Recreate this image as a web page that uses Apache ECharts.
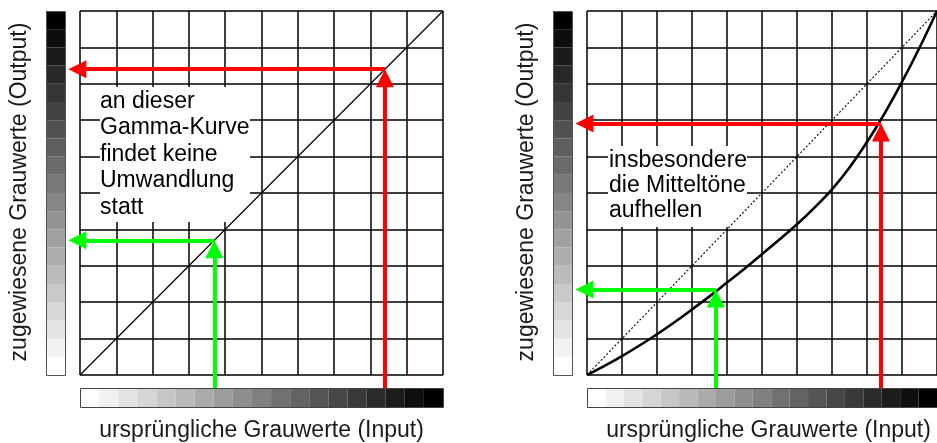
<!DOCTYPE html>
<html><head><meta charset="utf-8">
<script src="https://cdn.jsdelivr.net/npm/echarts@6/dist/echarts.min.js"></script>
<style>html,body{margin:0;padding:0;background:#fff}#c{width:937px;height:443px}</style>
</head><body><div id="c"></div>
<script>
// ---- data ----
const inputGrays = [255, 241, 227, 213, 198, 184, 170, 156, 142, 128, 113, 99, 85, 71, 57, 43, 28, 14, 0]; // bottom bar, left→right
const outputGrays = [255, 242, 228, 215, 201, 188, 174, 161, 148, 134, 121, 107, 94, 81, 67, 54, 40, 27, 13, 0]; // side bar, bottom→top
const identityIn = [0, 100];
const identityOut = [0, 100];
const gammaIn  = [0, 5, 10, 15, 20, 25, 30, 35, 40, 45, 50, 55, 60, 65, 70, 75, 80, 85, 90, 95, 100];
const gammaOut = [0, 2.5, 5.2, 8.1, 11.2, 14.5, 18, 21.6, 25.4, 29.2, 33.2, 37.2, 41.4, 46.0, 51.0, 57.0, 64.0, 71.8, 80.5, 89.9, 100];
// example lookups: [input, output]
const leftGreen = [37, 37];
const leftRed = [84, 84];
const rightGreen = [36.8, 23.5];
const rightRed = [84, 69.1];
const leftNote = 'an dieser\nGamma-Kurve\nfindet keine\nUmwandlung\nstatt';
const rightNote = 'insbesondere\ndie Mitteltöne\naufhellen';
const xTitle = 'ursprüngliche Grauwerte (Input)';
const yTitle = 'zugewiesene Grauwerte (Output)';

// ---- layout ----
const FONT = '"Liberation Sans", Arial, sans-serif';
const PW = 363, PH = 364, TOP = 11;
const panels = [{left: 80, side: 46}, {left: 587, side: 553}];
const PXU = 100 / PW;          // data units per pixel
const BAR_TOP = 388, BAR_H = 19;
const START_Y = -(BAR_TOP - (TOP + PH)) * PXU;  // bottom bar top edge in data units
const TIP_X = -3.2;            // arrow tip left of plot
const HEAD = 18;

const grids = [], xAxes = [], yAxes = [], series = [];
const hidden = {axisLine:{show:false}, axisTick:{show:false}, axisLabel:{show:false}, splitLine:{show:false}};

panels.forEach((p, i) => {
  // main plot
  grids.push({left: p.left, top: TOP, width: PW, height: PH});
  const main = grids.length - 1;
  xAxes.push({gridIndex: main, type: 'value', min: 0, max: 100, interval: 10,
    axisLine:{show:false}, axisTick:{show:false}, axisLabel:{show:false},
    splitLine:{show:true, lineStyle:{color:'#000', width:1.5}}});
  yAxes.push({gridIndex: main, type: 'value', min: 0, max: 100, interval: 10,
    axisLine:{show:false}, axisTick:{show:false}, axisLabel:{show:false},
    splitLine:{show:true, lineStyle:{color:'#000', width:1.5}}});
  p.main = main;
  // bottom input bar
  grids.push({left: p.left, top: BAR_TOP, width: PW, height: BAR_H});
  const gb = grids.length - 1;
  xAxes.push(Object.assign({gridIndex: gb, type:'category', data: inputGrays.map((g, k) => 'i' + k)}, hidden));
  yAxes.push(Object.assign({gridIndex: gb, type:'value', min:0, max:1}, hidden));
  series.push({type:'bar', xAxisIndex: gb, yAxisIndex: gb, barCategoryGap: '0%', silent: true,
    data: inputGrays.map(g => ({value: 1, itemStyle:{color:`rgb(${g},${g},${g})`}}))});
  // side output bar
  grids.push({left: p.side, top: TOP, width: 19, height: PH});
  const gs = grids.length - 1;
  xAxes.push(Object.assign({gridIndex: gs, type:'value', min:0, max:1}, hidden));
  yAxes.push(Object.assign({gridIndex: gs, type:'category', data: outputGrays.map((g, k) => 'o' + k)}, hidden));
  series.push({type:'bar', xAxisIndex: gs, yAxisIndex: gs, barCategoryGap: '0%', silent: true,
    data: outputGrays.map(g => ({value: 1, itemStyle:{color:`rgb(${g},${g},${g})`}}))});
});

// left panel: identity curve
series.push({type:'line', xAxisIndex: panels[0].main, yAxisIndex: panels[0].main, symbol:'none', z: 3,
  data: identityIn.map((v, k) => [v, identityOut[k]]), lineStyle:{color:'#000', width:1.2}});
// right panel: dotted reference and gamma curve
series.push({type:'line', xAxisIndex: panels[1].main, yAxisIndex: panels[1].main, symbol:'none', z: 3,
  data: identityIn.map((v, k) => [v, identityOut[k]]), lineStyle:{color:'#000', width:1.1, type:[2,2]}});
series.push({type:'line', xAxisIndex: panels[1].main, yAxisIndex: panels[1].main, symbol:'none', smooth: 0.4, z: 3,
  data: gammaIn.map((v, k) => [v, gammaOut[k]]), lineStyle:{color:'#000', width:2.6}});

function arrows(pair, color) {
  const [x, y] = pair;
  const half = HEAD / 2 * PXU;
  return [
    {coords: [[x, START_Y], [x, y - half]], lineStyle:{color}},
    {coords: [[x, y], [TIP_X + half, y]], lineStyle:{color}}
  ];
}
[[panels[0], leftGreen, leftRed], [panels[1], rightGreen, rightRed]].forEach(([p, g, r]) => {
  series.push({type:'lines', coordinateSystem:'cartesian2d', xAxisIndex: p.main, yAxisIndex: p.main,
    clip: false, z: 5, silent: true, symbol: ['none', 'triangle'], symbolSize: HEAD,
    lineStyle:{width: 4, opacity: 1},
    data: arrows(g, '#00ff00').concat(arrows(r, '#ff0000'))});
});

const graphic = [];
// text notes with white backing
graphic.push({type:'rect', z: 1, shape:{x:100, y:87, width:150, height:135}, style:{fill:'#fff'}});
graphic.push({type:'text', z: 1, x: 100, y: 88, style:{text: leftNote, font: '23px ' + FONT, lineHeight: 26.6, fill:'#000'}});
graphic.push({type:'rect', z: 1, shape:{x:608, y:146, width:139, height:81}, style:{fill:'#fff'}});
graphic.push({type:'text', z: 1, x: 609, y: 147.5, style:{text: rightNote, font: '23px ' + FONT, lineHeight: 25.4, fill:'#000'}});
// axis titles, gray bar outlines
panels.forEach(p => {
  graphic.push({type:'text', z: 10, x: p.left + PW / 2, y: 431,
    style:{text: xTitle, font: '23px ' + FONT, fill:'#1a1a1a', textAlign:'center', textVerticalAlign:'middle'}});
  graphic.push({type:'text', z: 10, x: p.left - 60, y: TOP + PH / 2 - 1, rotation: Math.PI / 2,
    style:{text: yTitle, font: '23px ' + FONT, fill:'#1a1a1a', textAlign:'center', textVerticalAlign:'middle'}});
  graphic.push({type:'rect', z: 10, shape:{x: p.left + 0.5, y: BAR_TOP + 0.5, width: PW, height: BAR_H}, style:{fill:'none', stroke:'#444', lineWidth:1}});
  graphic.push({type:'rect', z: 10, shape:{x: p.side + 0.5, y: TOP + 0.5, width: 19, height: PH}, style:{fill:'none', stroke:'#555', lineWidth:1}});
});

const chart = echarts.init(document.getElementById('c'), null, {renderer:'canvas'});
chart.setOption({animation:false, backgroundColor:'#fff', grid: grids, xAxis: xAxes, yAxis: yAxes, series, graphic});
</script></body></html>
